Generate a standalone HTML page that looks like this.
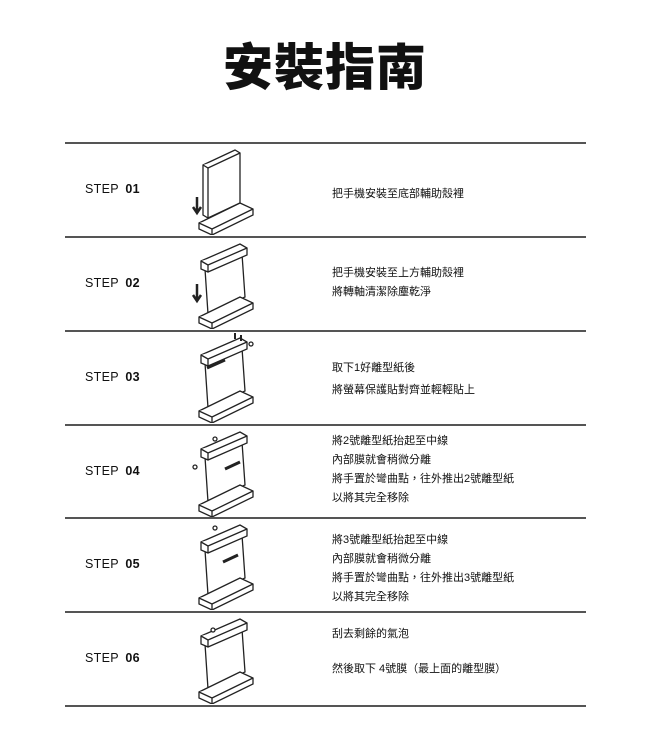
<!DOCTYPE html>
<html><head><meta charset="utf-8"><style>
body{margin:0;width:650px;height:756px;background:#fff;position:relative;font-family:"Liberation Sans","Noto Sans CJK TC",sans-serif;color:#111;overflow:hidden}
.t{position:absolute;left:0;width:650px;top:36px;text-align:center;font-size:50px;font-weight:900;letter-spacing:1px;line-height:64px}
.l{position:absolute;left:65px;width:521px;height:1.5px;background:#555}
.s{position:absolute;left:85px;font-size:12.5px;letter-spacing:.3px}
.s b{font-weight:900;margin-left:3px}
.x{position:absolute;left:332px;font-size:11px;line-height:19px;white-space:nowrap}
svg{position:absolute;left:185px}
</style></head><body>
<div class="t">安裝指南</div>
<div class="l" style="top:142px"></div>
<div class="l" style="top:236px"></div>
<div class="l" style="top:330px"></div>
<div class="l" style="top:424px"></div>
<div class="l" style="top:517px"></div>
<div class="l" style="top:611px"></div>
<div class="l" style="top:705px"></div>

<div class="s" style="top:182px">STEP <b>01</b></div>
<div class="s" style="top:276px">STEP <b>02</b></div>
<div class="s" style="top:370px">STEP <b>03</b></div>
<div class="s" style="top:464px">STEP <b>04</b></div>
<div class="s" style="top:557px">STEP <b>05</b></div>
<div class="s" style="top:651px">STEP <b>06</b></div>

<div class="x" style="top:185px">把手機安裝至底部輔助殼裡</div>
<div class="x" style="top:264px">把手機安裝至上方輔助殼裡<br>將轉軸清潔除塵乾淨</div>
<div class="x" style="top:359px">取下1好離型紙後</div>
<div class="x" style="top:381px">將螢幕保護貼對齊並輕輕貼上</div>
<div class="x" style="top:432px">將2號離型紙抬起至中線<br>內部膜就會稍微分離<br>將手置於彎曲點，往外推出2號離型紙<br>以將其完全移除</div>
<div class="x" style="top:531px">將3號離型紙抬起至中線<br>內部膜就會稍微分離<br>將手置於彎曲點，往外推出3號離型紙<br>以將其完全移除</div>
<div class="x" style="top:625px">刮去剩餘的氣泡</div>
<div class="x" style="top:660px">然後取下 4號膜（最上面的離型膜）</div>

<svg style="top:145px" width="80" height="90" viewBox="0 0 80 90" fill="#fff" stroke="#222" stroke-width="1.3">
<path d="M18 20 L50 5 L55 8 L55 58 L23 73 L18 70Z"/><path d="M18 20 L23 23 L55 8"/><path d="M23 23 L23 73"/>
<path d="M14 78 L55 58 L68 64 L68 70 L27 90 L14 84Z"/><path d="M14 78 L27 84 L68 64 M27 84 L27 90"/>
<path d="M12 52 V66 M8 62 L12 68 L16 62" stroke-width="2.5"/></svg>

<svg style="top:239px" width="80" height="90" viewBox="0 0 80 90" fill="#fff" stroke="#222" stroke-width="1.3">
<path d="M20 30 L23 75 L60 58 L57 15Z"/>
<path d="M16 22 L55 5 L62 9 L62 16 L23 33 L16 30Z"/><path d="M16 22 L23 26 L62 9 M23 26 V33"/>
<path d="M14 78 L55 58 L68 64 L68 70 L27 90 L14 84Z"/><path d="M14 78 L27 84 L68 64 M27 84 L27 90"/>
<path d="M12 45 V60 M8 56 L12 62 L16 56" stroke-width="2.5"/></svg>

<svg style="top:333px" width="90" height="90" viewBox="0 0 90 90" fill="#fff" stroke="#222" stroke-width="1.3">
<path d="M20 30 L23 75 L60 58 L57 15Z"/>
<path d="M16 22 L55 5 L62 9 L62 16 L23 33 L16 30Z"/><path d="M16 22 L23 26 L62 9 M23 26 V33"/>
<path d="M14 78 L55 58 L68 64 L68 70 L27 90 L14 84Z"/><path d="M14 78 L27 84 L68 64 M27 84 L27 90"/>
<path d="M22 35 L40 27" stroke-width="3"/><path d="M50 6 V0 M56 8 V2" stroke-width="2"/><circle cx="66" cy="11" r="2"/></svg>

<svg style="top:427px" width="90" height="90" viewBox="0 0 90 90" fill="#fff" stroke="#222" stroke-width="1.3">
<path d="M20 30 L23 75 L60 58 L57 15Z"/>
<path d="M16 22 L55 5 L62 9 L62 16 L23 33 L16 30Z"/><path d="M16 22 L23 26 L62 9 M23 26 V33"/>
<path d="M14 78 L55 58 L68 64 L68 70 L27 90 L14 84Z"/><path d="M14 78 L27 84 L68 64 M27 84 L27 90"/>
<path d="M40 42 L55 35" stroke-width="3"/><circle cx="30" cy="12" r="2"/><circle cx="10" cy="40" r="2"/></svg>

<svg style="top:520px" width="90" height="90" viewBox="0 0 90 90" fill="#fff" stroke="#222" stroke-width="1.3">
<path d="M20 30 L23 75 L60 58 L57 15Z"/>
<path d="M16 22 L55 5 L62 9 L62 16 L23 33 L16 30Z"/><path d="M16 22 L23 26 L62 9 M23 26 V33"/>
<path d="M14 78 L55 58 L68 64 L68 70 L27 90 L14 84Z"/><path d="M14 78 L27 84 L68 64 M27 84 L27 90"/>
<path d="M38 42 L53 35" stroke-width="3"/><circle cx="30" cy="8" r="2"/></svg>

<svg style="top:614px" width="90" height="90" viewBox="0 0 90 90" fill="#fff" stroke="#222" stroke-width="1.3">
<path d="M20 30 L23 75 L60 58 L57 15Z"/>
<path d="M16 22 L55 5 L62 9 L62 16 L23 33 L16 30Z"/><path d="M16 22 L23 26 L62 9 M23 26 V33"/>
<path d="M14 78 L55 58 L68 64 L68 70 L27 90 L14 84Z"/><path d="M14 78 L27 84 L68 64 M27 84 L27 90"/>
<circle cx="28" cy="16" r="2"/></svg>
</body></html>
